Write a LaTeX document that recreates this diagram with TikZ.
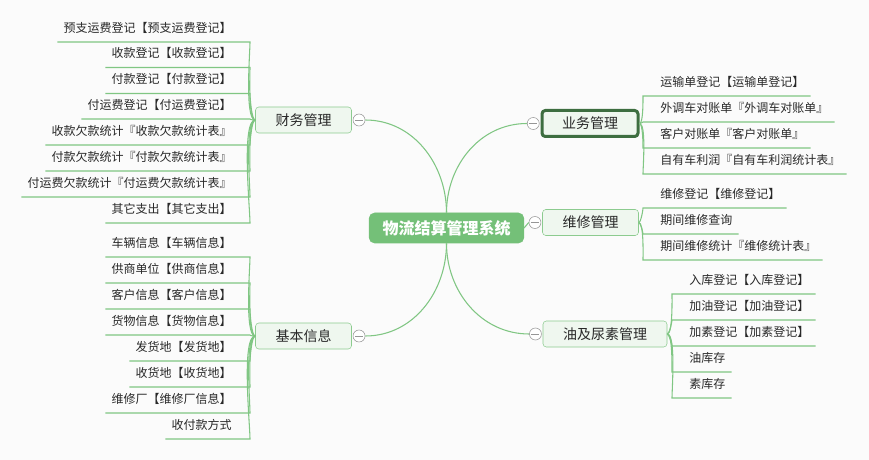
\documentclass[tikz,border=0pt]{standalone}
\usepackage{fontspec}
\setmainfont{Noto Sans CJK SC}
\usetikzlibrary{positioning}
\definecolor{linegreen}{RGB}{128,198,131}
\definecolor{rootgreen}{RGB}{116,192,120}
\definecolor{topicfill}{RGB}{239,247,239}
\definecolor{topicdraw}{RGB}{140,203,143}
\definecolor{selgreen}{RGB}{61,110,64}
\definecolor{foldgrey}{RGB}{150,150,150}
\definecolor{textgrey}{RGB}{40,40,40}
\definecolor{bgcol}{RGB}{251,251,251}
\begin{document}
\begin{tikzpicture}[x=0.75pt,y=-0.75pt]
  \tikzset{root/.style={fill=rootgreen, draw=rootgreen, rounded corners=4pt, text=white, font=\fontsize{12pt}{14pt}\bfseries, inner xsep=10pt, minimum height=22.5pt},
           topic/.style={fill=topicfill, draw=topicdraw, rounded corners=2.5pt, text=textgrey, font=\fontsize{10.5pt}{12pt}\selectfont, inner xsep=15pt, minimum height=19.5pt},
           fold/.style={draw=foldgrey, fill=white, circle, inner sep=0pt, minimum size=9pt,
                        path picture={\draw[foldgrey] ([xshift=1.5pt]path picture bounding box.west) -- ([xshift=-1.5pt]path picture bounding box.east);}},
           leaf/.style={text=textgrey, font=\fontsize{9pt}{11pt}\selectfont, inner xsep=4.5pt, inner ysep=1.5pt, text height=7pt, text depth=5.5pt},
           lleaf/.style={leaf, anchor=south east},
           rleaf/.style={leaf, anchor=south west},
           branch/.style={draw=linegreen, line width=0.8pt},
           up/.style={looseness=.35, in=-90},
           down/.style={looseness=.35, in=90}}
  \fill[bgcol] (0,0) rectangle (869,460);
  \useasboundingbox (0,0) rectangle (869,460);
%% Root and topics
	\node[root] (xt) at (446.5,228) {物流结算管理系统};
	\node[topic] (cw) at (303.5,120) {财务管理};
	\node[topic] (jb) at (303.5,336) {基本信息};
	\node[topic, draw=selgreen, line width=2.25pt] (yw) at (590,123.5) {业务管理};
	\node[topic] (wx) at (590.5,222.5) {维修管理};
	\node[topic] (yn) at (605,334) {油及尿素管理};
%% Fold buttons
	\node[fold, right=0.75pt of cw] (cwf) {};
	\node[fold, right=0.75pt of jb] (jbf) {};
	\node[fold, left=0.75pt of yw] (ywf) {};
	\node[fold, left=0.75pt of wx] (wxf) {};
	\node[fold, left=0.75pt of yn] (ynf) {};
%% Leaves
	\node[lleaf] (cw1) at (238,42) {预支运费登记【预支运费登记】};
	\node[lleaf] (cw2) at (238,67.5) {收款登记【收款登记】};
	\node[lleaf] (cw3) at (238,93.5) {付款登记【付款登记】};
	\node[lleaf] (cw4) at (238,119) {付运费登记【付运费登记】};
	\node[lleaf] (cw5) at (238,145) {收款欠款统计『收款欠款统计表』};
	\node[lleaf] (cw6) at (238,171) {付款欠款统计『付款欠款统计表』};
	\node[lleaf] (cw7) at (238,197) {付运费欠款统计『付运费欠款统计表』};
	\node[lleaf] (cw8) at (238,223) {其它支出【其它支出】};
	\node[lleaf] (jb1) at (238,257) {车辆信息【车辆信息】};
	\node[lleaf] (jb2) at (238,283) {供商单位【供商信息】};
	\node[lleaf] (jb3) at (238,309) {客户信息【客户信息】};
	\node[lleaf] (jb4) at (238,335) {货物信息【货物信息】};
	\node[lleaf] (jb5) at (238,361) {发货地【发货地】};
	\node[lleaf] (jb6) at (238,387) {收货地【收货地】};
	\node[lleaf] (jb7) at (238,413) {维修厂【维修厂信息】};
	\node[lleaf] (jb8) at (238,439) {收付款方式};
	\node[rleaf] (yw1) at (654,96) {运输单登记【运输单登记】};
	\node[rleaf] (yw2) at (654,122) {外调车对账单『外调车对账单』};
	\node[rleaf] (yw3) at (654,148) {客户对账单『客户对账单』};
	\node[rleaf] (yw4) at (654,174) {自有车利润『自有车利润统计表』};
	\node[rleaf] (wx1) at (654,208) {维修登记【维修登记】};
	\node[rleaf] (wx2) at (654,234) {期间维修查询};
	\node[rleaf] (wx3) at (654,260) {期间维修统计『维修统计表』};
	\node[rleaf] (yn1) at (683,294) {入库登记【入库登记】};
	\node[rleaf] (yn2) at (683,320) {加油登记【加油登记】};
	\node[rleaf] (yn3) at (683,346) {加素登记【加素登记】};
	\node[rleaf] (yn4) at (683,372) {油库存};
	\node[rleaf] (yn5) at (683,398) {素库存};
%Main branches
	\path[branch] (xt.north) edge[out=90, in=0] (cwf.east);
	\path[branch] (xt.north) edge[out=90, in=180] (ywf.west);
	\path[branch] (xt.south) edge[out=-90, in=0] (jbf.east);
	\path[branch] (xt.south) edge[out=-90, in=180] (ynf.west);
	\path[branch] (xt.east) edge (wxf.west);
%Leaf branches
	\draw[branch] (cw.west) to[out=180, up] ([xshift=9pt]cw1.south east) -- (cw1.south west);
	\draw[branch] (cw.west) to[out=180, up] ([xshift=9pt]cw2.south east) -- (cw2.south west);
	\draw[branch] (cw.west) to[out=180, up] ([xshift=9pt]cw3.south east) -- (cw3.south west);
	\draw[branch] (cw.west) to[out=180, up] ([xshift=9pt]cw4.south east) -- (cw4.south west);
	\draw[branch] (cw.west) to[out=180, down] ([xshift=9pt]cw5.south east) -- (cw5.south west);
	\draw[branch] (cw.west) to[out=180, down] ([xshift=9pt]cw6.south east) -- (cw6.south west);
	\draw[branch] (cw.west) to[out=180, down] ([xshift=9pt]cw7.south east) -- (cw7.south west);
	\draw[branch] (cw.west) to[out=180, down] ([xshift=9pt]cw8.south east) -- (cw8.south west);
	\draw[branch] (jb.west) to[out=180, up] ([xshift=9pt]jb1.south east) -- (jb1.south west);
	\draw[branch] (jb.west) to[out=180, up] ([xshift=9pt]jb2.south east) -- (jb2.south west);
	\draw[branch] (jb.west) to[out=180, up] ([xshift=9pt]jb3.south east) -- (jb3.south west);
	\draw[branch] (jb.west) to[out=180, up] ([xshift=9pt]jb4.south east) -- (jb4.south west);
	\draw[branch] (jb.west) to[out=180, down] ([xshift=9pt]jb5.south east) -- (jb5.south west);
	\draw[branch] (jb.west) to[out=180, down] ([xshift=9pt]jb6.south east) -- (jb6.south west);
	\draw[branch] (jb.west) to[out=180, down] ([xshift=9pt]jb7.south east) -- (jb7.south west);
	\draw[branch] (jb.west) to[out=180, down] ([xshift=9pt]jb8.south east) -- (jb8.south west);
	\draw[branch] (yw.east) to[out=0, up] ([xshift=-8.25pt]yw1.south west) -- (yw1.south east);
	\draw[branch] (yw.east) to[out=0, up] ([xshift=-8.25pt]yw2.south west) -- (yw2.south east);
	\draw[branch] (yw.east) to[out=0, down] ([xshift=-8.25pt]yw3.south west) -- (yw3.south east);
	\draw[branch] (yw.east) to[out=0, down] ([xshift=-8.25pt]yw4.south west) -- (yw4.south east);
	\draw[branch] (wx.east) to[out=0, up] ([xshift=-8.25pt]wx1.south west) -- (wx1.south east);
	\draw[branch] (wx.east) to[out=0, down] ([xshift=-8.25pt]wx2.south west) -- (wx2.south east);
	\draw[branch] (wx.east) to[out=0, down] ([xshift=-8.25pt]wx3.south west) -- (wx3.south east);
	\draw[branch] (yn.east) to[out=0, up] ([xshift=-8.25pt]yn1.south west) -- (yn1.south east);
	\draw[branch] (yn.east) to[out=0, up] ([xshift=-8.25pt]yn2.south west) -- (yn2.south east);
	\draw[branch] (yn.east) to[out=0, down] ([xshift=-8.25pt]yn3.south west) -- (yn3.south east);
	\draw[branch] (yn.east) to[out=0, down] ([xshift=-8.25pt]yn4.south west) -- (yn4.south east);
	\draw[branch] (yn.east) to[out=0, down] ([xshift=-8.25pt]yn5.south west) -- (yn5.south east);
\end{tikzpicture}
\end{document}
